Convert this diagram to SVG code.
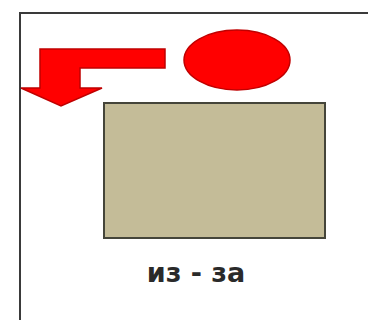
<svg xmlns="http://www.w3.org/2000/svg" width="368" height="320" viewBox="0 0 368 320">
<style>
.frame{fill:none;stroke:#3a3a3a;stroke-width:2}
.red{fill:#ff0000;stroke:#c00000;stroke-width:1.5}
.box{fill:#c4bc98;stroke:#45453a;stroke-width:2}
.lbl{font-family:"DejaVu Sans",sans-serif;font-weight:bold;font-size:27px;fill:#2a2a2a;text-anchor:middle}
</style>
<rect width="368" height="320" fill="#ffffff"/>
<path class="frame" d="M20,320 V13 H368"/>
<g id="arrow">
<path class="red" d="M165,49 V68 H80 V88 H102 L61,106 L21,88 H40 V49 Z"/>
</g>
<g id="circle">
<ellipse class="red" cx="237" cy="60" rx="53" ry="30"/>
</g>
<g id="box">
<rect class="box" x="104" y="103" width="221" height="135"/>
</g>
<g id="label">
<text class="lbl" x="196" y="282">из - за</text>
</g>
<g id="connectors"/>
</svg>
